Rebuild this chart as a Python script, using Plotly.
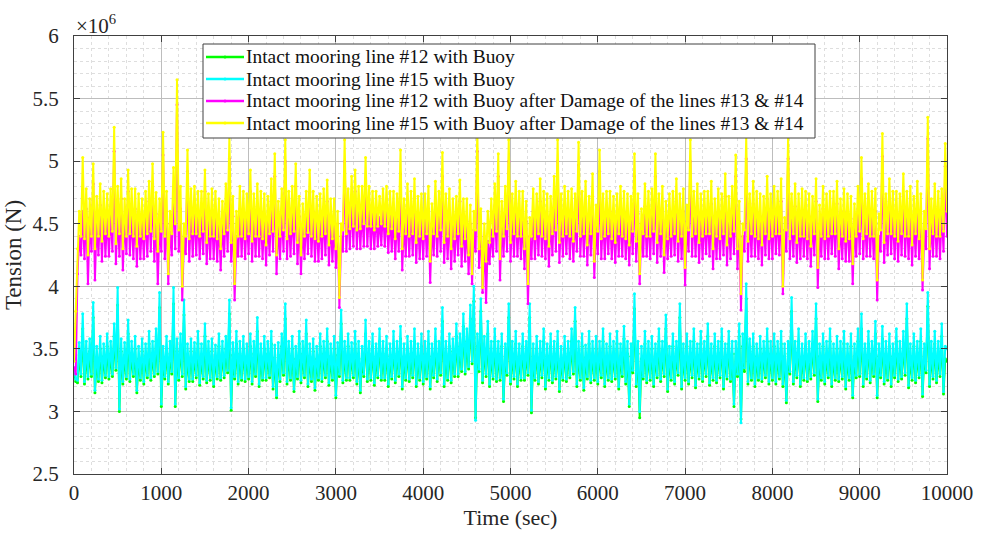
import plotly.graph_objects as go

# Time samples (s), one every 20 s
time_s = list(range(0, 10001, 20))

# Tension values, in units of 1e4 N (e.g. 362 -> 3.62e6 N)
intact_12_raw = [
    330,324, 323,345, 328,366, 322,346, 326,348, 328,375, 315,342, 324,350, 323,344, 327,352, 326,346, 328,360, 333,385, 300,348, 322,345, 326,362, 324,346, 328,350, 315,342, 325,348, 322,344, 327,354, 325,346, 328,356, 330,383,
    304,342, 326,350, 322,346, 330,386, 304,348, 325,352, 328,377, 318,344, 324,348, 324,345, 327,354, 321,344, 326,360, 323,346, 325,348, 320,343, 326,352, 325,346, 327,350, 331,378, 301,345, 326,354, 322,346, 325,350, 324,344,
    326,352, 322,346, 328,364, 320,344, 325,350, 325,346, 327,354, 318,343, 311,345, 324,352, 329,374, 322,346, 325,350, 316,342, 326,354, 323,346, 327,362, 320,344, 324,348, 317,342, 325,352, 324,346, 327,356, 321,344, 325,350,
    311,345, 328,370, 323,346, 325,352, 325,345, 327,354, 322,346, 315,342, 328,362, 324,346, 325,352, 321,344, 327,356, 325,346, 325,350, 320,344, 326,354, 323,346, 328,358, 318,344, 325,350, 324,346, 327,356, 320,344, 325,352,
    322,346, 326,354, 318,344, 327,356, 324,346, 329,372, 320,346, 325,352, 323,348, 328,360, 328,352, 332,368, 330,356, 334,374, 338,388, 295,352, 332,380, 323,350, 328,362, 320,346, 326,356, 324,346, 325,352, 308,344, 329,375,
    322,346, 326,354, 320,344, 325,352, 325,346, 329,375, 299,344, 325,350, 322,346, 327,356, 318,344, 325,352, 323,346, 326,354, 316,342, 325,350, 324,346, 327,356, 330,372, 320,346, 325,352, 317,343, 326,354, 323,346, 325,350,
    322,346, 327,356, 320,344, 325,352, 324,346, 326,354, 318,344, 328,358, 322,346, 304,344, 331,382, 320,346, 295,342, 326,354, 323,346, 325,350, 320,344, 327,356, 324,346, 328,366, 316,342, 325,352, 322,346, 329,375, 318,344,
    325,352, 322,346, 327,356, 319,344, 326,354, 324,346, 328,360, 321,344, 325,352, 323,346, 327,356, 318,344, 326,354, 324,346, 304,346, 328,360, 294,352, 332,390, 322,348, 325,352, 320,344, 325,350, 324,346, 327,356, 322,346,
    325,352, 322,346, 326,354, 320,344, 307,346, 330,380, 322,346, 327,356, 320,344, 325,352, 324,346, 326,354, 329,374, 308,344, 325,352, 322,346, 327,356, 320,344, 325,350, 324,346, 326,354, 318,344, 325,352, 311,344, 327,356,
    328,366, 320,344, 326,354, 323,346, 328,362, 311,344, 327,358, 322,346, 325,352, 320,344, 327,356, 324,346, 326,354, 329,374, 319,344, 325,352, 323,346, 327,356, 312,344, 331,384, 320,346, 326,354, 323,346, 328,360, 314,342,
    340,
]

intact_15_raw = [
    335,326, 325,355, 330,378, 324,356, 328,358, 330,387, 317,352, 326,360, 325,354, 329,362, 328,356, 330,370, 335,399, 302,358, 324,355, 328,373, 326,356, 330,360, 317,352, 327,358, 324,354, 329,364, 327,356, 330,366, 332,395,
    306,352, 328,360, 324,356, 332,399, 306,358, 327,362, 330,389, 320,354, 326,358, 326,355, 329,364, 323,354, 328,370, 325,356, 327,358, 322,353, 328,362, 327,356, 329,360, 333,389, 303,355, 328,364, 324,356, 327,360, 326,354,
    328,362, 324,356, 330,375, 322,354, 327,360, 327,356, 329,364, 320,353, 313,355, 326,362, 331,386, 324,356, 327,360, 318,352, 328,364, 325,356, 329,373, 322,354, 326,358, 319,352, 327,362, 326,356, 329,366, 323,354, 327,360,
    313,355, 330,381, 325,356, 327,362, 327,355, 329,364, 324,356, 317,352, 330,373, 326,356, 327,362, 323,354, 329,366, 327,356, 327,360, 322,354, 328,364, 325,356, 330,368, 320,354, 327,360, 326,356, 329,366, 322,354, 327,362,
    324,356, 328,364, 320,354, 329,366, 326,356, 331,383, 322,356, 327,362, 325,358, 330,370, 330,362, 334,378, 332,366, 336,385, 340,400, 293,362, 334,390, 325,360, 330,372, 322,356, 328,366, 326,356, 327,362, 310,354, 331,386,
    324,356, 328,364, 322,354, 327,362, 327,356, 331,386, 301,354, 327,360, 324,356, 329,366, 320,354, 327,362, 325,356, 328,364, 318,352, 327,360, 326,356, 329,366, 332,383, 322,356, 327,362, 319,353, 328,364, 325,356, 327,360,
    324,356, 329,366, 322,354, 327,362, 326,356, 328,364, 320,354, 330,368, 324,356, 306,354, 333,394, 322,356, 300,352, 328,364, 325,356, 327,360, 322,354, 329,366, 326,356, 330,377, 318,352, 327,362, 324,356, 331,386, 320,354,
    327,362, 324,356, 329,366, 321,354, 328,364, 326,356, 330,370, 323,354, 327,362, 325,356, 329,366, 320,354, 328,364, 326,356, 306,356, 330,370, 291,362, 335,402, 324,358, 327,362, 322,354, 327,360, 326,356, 329,366, 324,356,
    327,362, 324,356, 328,364, 322,354, 309,356, 332,391, 324,356, 329,366, 322,354, 327,362, 326,356, 328,364, 331,386, 310,354, 327,362, 324,356, 329,366, 322,354, 327,360, 326,356, 328,364, 320,354, 327,362, 313,354, 329,366,
    330,378, 322,354, 328,364, 325,356, 330,372, 313,354, 329,368, 324,356, 327,362, 322,354, 329,366, 326,356, 328,364, 331,386, 321,354, 327,362, 325,356, 329,366, 314,354, 333,395, 322,356, 328,364, 325,356, 330,370, 316,352,
    350,
]

damaged_12_raw = [
    335,330, 410,440, 425,460, 422,462, 402,455, 428,482, 405,455, 425,465, 420,460, 424,458, 424,460, 428,508, 418,460, 424,470, 413,456, 426,476, 425,460, 422,462, 416,456, 422,454, 422,460, 424,468, 428,482, 420,458, 402,452,
    428,505, 422,460, 402,450, 425,478, 430,545, 428,462, 389,440, 426,492, 420,460, 424,462, 425,460, 422,458, 426,476, 418,456, 422,460, 422,458, 420,454, 413,452, 424,466, 428,502, 420,456, 389,440, 424,462, 424,460, 422,456,
    426,476, 420,458, 424,464, 424,460, 422,456, 417,455, 425,468, 428,488, 410,452, 422,460, 428,500, 422,460, 424,462, 426,480, 418,456, 410,450, 422,458, 426,475, 424,460, 420,455, 420,458, 422,460, 425,468, 417,455, 420,452,
    415,450, 383,440, 428,500, 428,464, 430,470, 432,476, 430,464, 430,462, 432,485, 432,464, 430,458, 430,460, 432,455, 433,462, 432,462, 427,458, 428,458, 422,456, 428,490, 413,452, 424,464, 424,460, 425,468, 419,456, 422,456,
    422,458, 424,462, 403,450, 425,466, 424,460, 428,488, 419,456, 422,460, 414,454, 420,455, 425,468, 416,456, 420,452, 410,450, 402,445, 428,508, 415,450, 395,440, 387,436, 418,445, 424,464, 428,488, 405,452, 424,462, 428,500,
    420,458, 424,466, 424,460, 422,458, 414,452, 386,440, 422,460, 422,458, 425,468, 424,460, 422,456, 416,456, 425,470, 428,500, 419,456, 424,462, 426,460, 422,460, 420,458, 428,497, 424,460, 424,466, 417,456, 425,472, 407,450,
    426,492, 422,458, 422,458, 426,460, 422,454, 419,456, 424,462, 424,460, 422,456, 417,455, 426,488, 420,458, 402,450, 424,464, 424,460, 422,460, 426,488, 419,456, 424,462, 411,452, 422,456, 424,460, 425,468, 420,458, 422,460,
    401,452, 428,500, 424,460, 424,464, 419,456, 422,458, 426,460, 424,466, 414,454, 422,460, 422,458, 425,472, 417,456, 422,462, 426,488, 414,452, 381,440, 428,502, 420,458, 424,466, 424,460, 422,456, 417,456, 425,470, 422,458,
    422,462, 426,460, 425,468, 394,445, 428,502, 422,458, 424,464, 419,456, 422,460, 424,460, 422,456, 416,456, 425,468, 399,448, 424,462, 422,458, 422,458, 426,460, 424,466, 414,454, 422,460, 420,458, 420,454, 402,452, 424,462,
    426,486, 422,458, 424,464, 424,460, 422,460, 389,440, 428,504, 419,456, 425,468, 426,460, 422,458, 420,458, 425,472, 424,460, 422,462, 417,456, 424,466, 422,458, 397,445, 430,518, 414,454, 424,464, 424,460, 422,460, 428,496,
    440,
]

damaged_15_raw = [
    340,380, 430,460, 440,503, 438,478, 425,470, 440,498, 430,472, 440,482, 436,476, 442,474, 440,478, 444,527, 434,480, 442,486, 430,470, 440,493, 442,478, 440,478, 432,474, 440,470, 438,476, 442,484, 444,498, 438,475, 428,470,
    444,523, 440,476, 410,460, 442,495, 450,565, 445,480, 400,450, 440,509, 438,478, 442,480, 442,476, 440,476, 444,493, 435,474, 440,478, 440,476, 438,470, 430,468, 442,482, 445,520, 435,472, 402,460, 440,480, 440,476, 438,474,
    442,493, 436,474, 440,482, 440,476, 438,474, 433,472, 442,486, 444,506, 425,468, 440,478, 445,517, 438,476, 442,480, 444,498, 435,472, 425,466, 440,476, 443,493, 440,476, 438,472, 436,474, 440,478, 442,485, 433,470, 438,470,
    430,460, 391,450, 445,517, 442,478, 446,488, 448,493, 445,480, 446,480, 450,503, 448,480, 448,476, 445,476, 448,472, 450,478, 448,480, 442,476, 446,476, 438,474, 444,509, 430,470, 442,482, 440,476, 442,486, 435,472, 440,474,
    438,474, 442,480, 420,466, 442,484, 440,476, 445,507, 435,474, 440,478, 430,470, 438,472, 442,485, 432,470, 438,470, 425,465, 410,460, 445,525, 430,462, 399,450, 420,460, 435,470, 440,482, 444,506, 422,468, 440,480, 446,517,
    435,474, 442,484, 440,476, 440,476, 430,468, 402,455, 440,478, 438,474, 442,486, 440,476, 438,474, 432,472, 442,488, 445,517, 435,474, 440,480, 442,476, 440,478, 436,474, 444,515, 440,476, 442,484, 433,472, 442,490, 420,465,
    444,509, 438,474, 440,476, 442,476, 438,472, 435,474, 442,480, 440,476, 438,474, 433,472, 444,506, 436,474, 410,462, 442,482, 440,476, 440,478, 444,506, 435,474, 442,480, 425,468, 438,474, 440,476, 442,486, 436,474, 440,478,
    415,465, 445,517, 440,476, 442,482, 435,474, 440,476, 442,476, 442,484, 430,470, 440,478, 438,474, 442,490, 433,472, 440,480, 444,505, 430,468, 394,450, 445,520, 436,474, 442,484, 440,476, 438,474, 433,472, 442,488, 438,474,
    440,480, 442,476, 442,486, 400,455, 445,520, 438,474, 442,482, 435,474, 440,478, 440,476, 438,474, 432,472, 442,486, 415,465, 440,480, 438,474, 440,476, 442,476, 442,484, 430,470, 440,478, 436,474, 438,472, 418,466, 440,480,
    444,503, 438,474, 442,482, 440,476, 440,478, 405,458, 445,522, 435,474, 442,486, 442,476, 440,476, 436,474, 442,490, 440,476, 440,480, 433,472, 442,484, 438,474, 405,460, 446,535, 430,470, 442,482, 440,476, 440,478, 444,514,
    460,
]

UNIT = 100.0  # raw values / 100 -> units of 1e6 N (axis shows x10^6)

series_names = [
    "Intact mooring line #12 with Buoy",
    "Intact mooring line #15 with Buoy",
    "Intact mooring line #12 with Buoy after Damage of the lines #13 & #14",
    "Intact mooring line #15 with Buoy after Damage of the lines #13 & #14",
]
series_raw = [intact_12_raw, intact_15_raw, damaged_12_raw, damaged_15_raw]
series_colors = ["#00ff00", "#00ffff", "#ff00ff", "#ffff00"]

y_tick_vals = [2.5, 3, 3.5, 4, 4.5, 5, 5.5, 6]
y_tick_text = ["2.5", "3", "3.5", "4", "4.5", "5", "5.5", "6"]
x_tick_vals = [0, 1000, 2000, 3000, 4000, 5000, 6000, 7000, 8000, 9000, 10000]
x_tick_text = ["0", "1000", "2000", "3000", "4000", "5000", "6000", "7000", "8000", "9000", "10000"]

FONT = "Liberation Serif, Times New Roman, serif"
TXT = "#262626"

W, H = 990, 536
ML, MR, MT, MB = 74, 43, 36, 62
PW, PH = W - ML - MR, H - MT - MB


def px_x(px):
    return (px - ML) / PW


def px_y(py):
    return (H - MB - py) / PH


fig = go.Figure()
for name, raw, col in zip(series_names, series_raw, series_colors):
    n = min(len(raw), len(time_s))
    fig.add_trace(go.Scatter(
        x=time_s[:n], y=[v / UNIT for v in raw[:n]], name=name, mode="lines+markers",
        line=dict(color=col, width=2),
        marker=dict(color=col, size=3),
        showlegend=False,
    ))

axis_common = dict(
    showline=True, linecolor="#404040", linewidth=1, mirror="allticks",
    ticks="inside", ticklen=6, tickcolor="#404040",
    showgrid=True, gridcolor="#bdbdbd", gridwidth=1,
    zeroline=False,
    tickfont=dict(family=FONT, size=21, color=TXT),
)

fig.update_xaxes(
    range=[0, 10000], tickvals=x_tick_vals, ticktext=x_tick_text,
    minor=dict(dtick=200, showgrid=True, gridcolor="#dedede", griddash="dot", ticks=""),
    title=dict(text="Time (sec)", font=dict(family=FONT, size=22, color=TXT), standoff=2),
    **axis_common,
)
fig.update_yaxes(
    range=[2.5, 6], tickvals=y_tick_vals, ticktext=y_tick_text,
    minor=dict(dtick=0.1, showgrid=True, gridcolor="#dedede", griddash="dot", ticks=""),
    title=dict(text="Tension (N)", font=dict(family=FONT, size=23, color=TXT), standoff=4),
    ticklabelstandoff=10,
    **axis_common,
)

fig.add_annotation(
    x=0, y=1, xref="paper", yref="paper", xanchor="left", yanchor="bottom",
    text="×10<sup>6</sup>", showarrow=False,
    font=dict(family=FONT, size=21, color=TXT), yshift=-4,
)

# Legend box drawn inside the axes (MATLAB-style, compact rows)
box_l, box_r, box_t, box_b = 203, 815, 44, 138
row_y = [57, 79, 101, 123]
fig.add_shape(type="rect", xref="paper", yref="paper",
              x0=px_x(box_l), x1=px_x(box_r), y0=px_y(box_b), y1=px_y(box_t),
              fillcolor="white", line=dict(color="#404040", width=1), layer="above")
for name, col, ry in zip(series_names, series_colors, row_y):
    fig.add_shape(type="line", xref="paper", yref="paper",
                  x0=px_x(206), x1=px_x(244), y0=px_y(ry), y1=px_y(ry),
                  line=dict(color=col, width=2.5), layer="above")
    fig.add_shape(type="circle", xref="paper", yref="paper",
                  x0=px_x(223.5), x1=px_x(226.5), y0=px_y(ry + 1.5), y1=px_y(ry - 1.5),
                  fillcolor=col, line=dict(color=col, width=0), layer="above")
    fig.add_annotation(x=px_x(244), y=px_y(ry), xref="paper", yref="paper",
                       xanchor="left", yanchor="middle", text=name, showarrow=False,
                       font=dict(family=FONT, size=19.4, color="#111111"))

fig.update_layout(
    width=W, height=H,
    margin=dict(l=ML, r=MR, t=MT, b=MB),
    paper_bgcolor="white", plot_bgcolor="white",
    font=dict(family=FONT, color=TXT),
    showlegend=False,
)

fig.write_html("out.html")
